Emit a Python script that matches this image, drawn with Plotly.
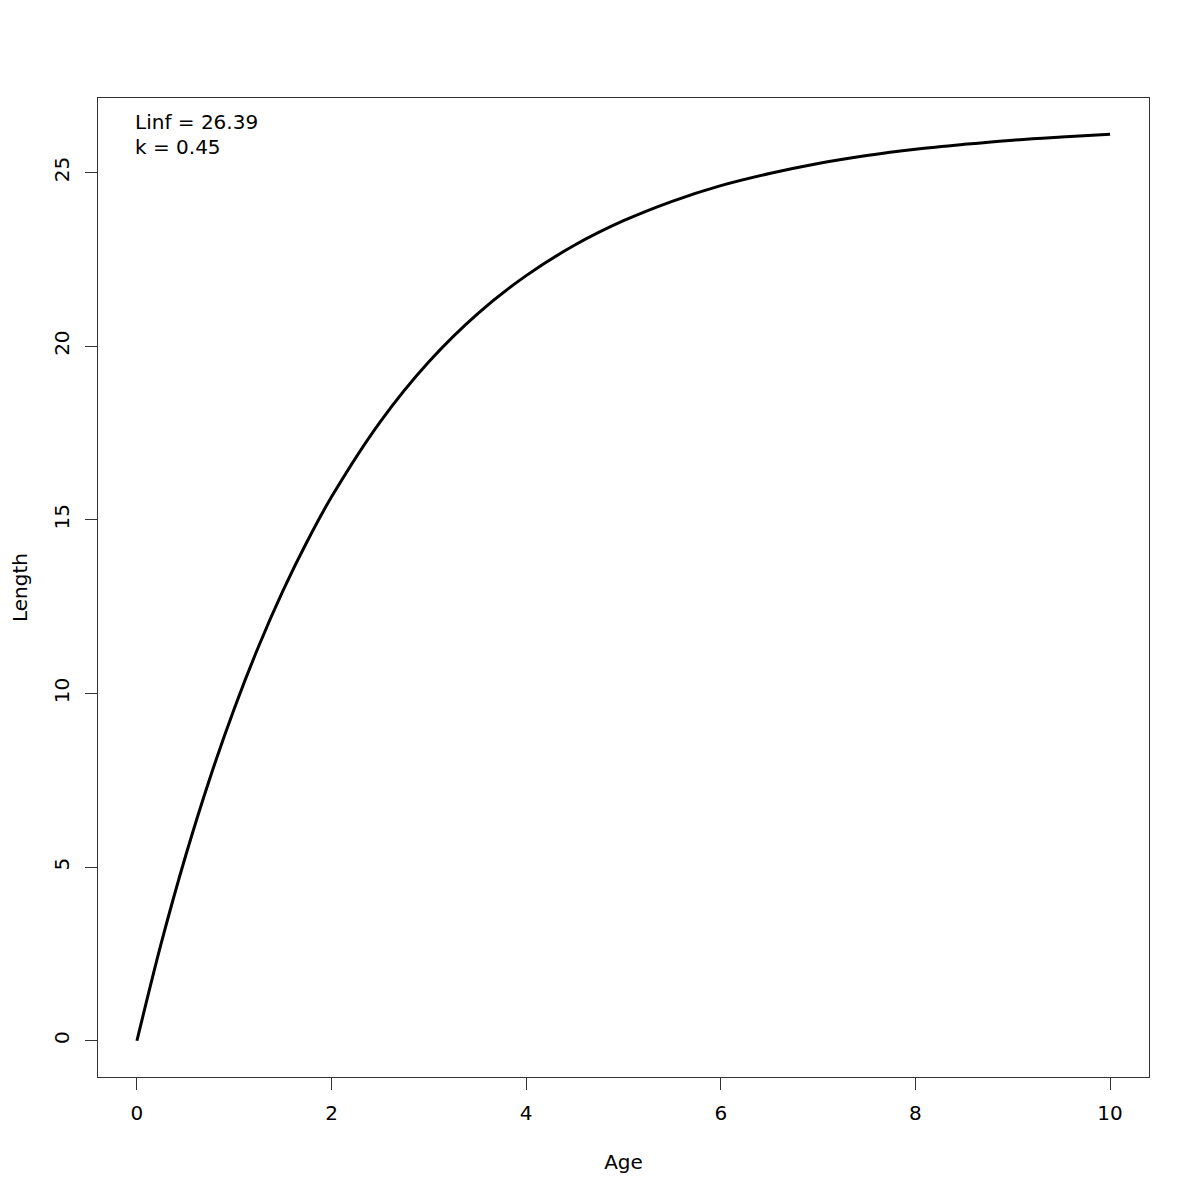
import plotly.graph_objects as go

age = [0, 0.25, 0.5, 0.75, 1, 1.25, 1.5, 1.75, 2, 2.5, 3, 3.5, 4, 4.5, 5, 5.5,
       6, 6.5, 7, 7.5, 8, 8.5, 9, 9.5, 10]
length = [0, 2.81, 5.32, 7.56, 9.56, 11.35, 12.95, 14.38, 15.66, 17.82, 19.55,
          20.93, 22.03, 22.91, 23.61, 24.17, 24.62, 24.97, 25.26, 25.49, 25.67,
          25.81, 25.93, 26.02, 26.10]
x_ticks = [0, 2, 4, 6, 8, 10]
y_ticks = [0, 5, 10, 15, 20, 25]
legend_lines = ["Linf = 26.39", "k = 0.45"]

FONT = "DejaVu Sans"
FS = 20

fig = go.Figure()
fig.add_trace(go.Scatter(x=age, y=length, mode="lines", line=dict(color="black", width=3, shape="spline"),
                         showlegend=False, hoverinfo="skip"))

axis_common = dict(showgrid=False, zeroline=False, showline=True, linecolor="#333333", linewidth=1,
                   mirror=True, ticks="outside", ticklen=12, tickcolor="#333333", tickwidth=1,
                   automargin=False,
                   tickfont=dict(family=FONT, size=FS, color="black"))

fig.update_layout(
    width=1200, height=1200,
    paper_bgcolor="white", plot_bgcolor="white",
    margin=dict(l=90, r=59, t=90, b=131),
    xaxis=dict(range=[-0.4, 10.4], tickvals=x_ticks, ticktext=[str(v) for v in x_ticks],
               ticklabelstandoff=6,
               title=dict(text="Age", font=dict(family=FONT, size=FS, color="black"), standoff=30),
               **axis_common),
    yaxis=dict(range=[-1.044, 27.144], tickvals=y_ticks, ticktext=[str(v) for v in y_ticks],
               tickangle=-90, ticklabelstandoff=8,
               title=dict(text="Length", font=dict(family=FONT, size=FS, color="black"), standoff=23),
               **axis_common),
)

for i, txt in enumerate(legend_lines):
    fig.add_annotation(text=txt, xref="x", yref="paper", x=-0.04, y=1 - (24 + 25 * i) / 979,
                       xanchor="left", yanchor="middle", showarrow=False,
                       font=dict(family=FONT, size=FS, color="black"))

fig.write_html("out.html")
